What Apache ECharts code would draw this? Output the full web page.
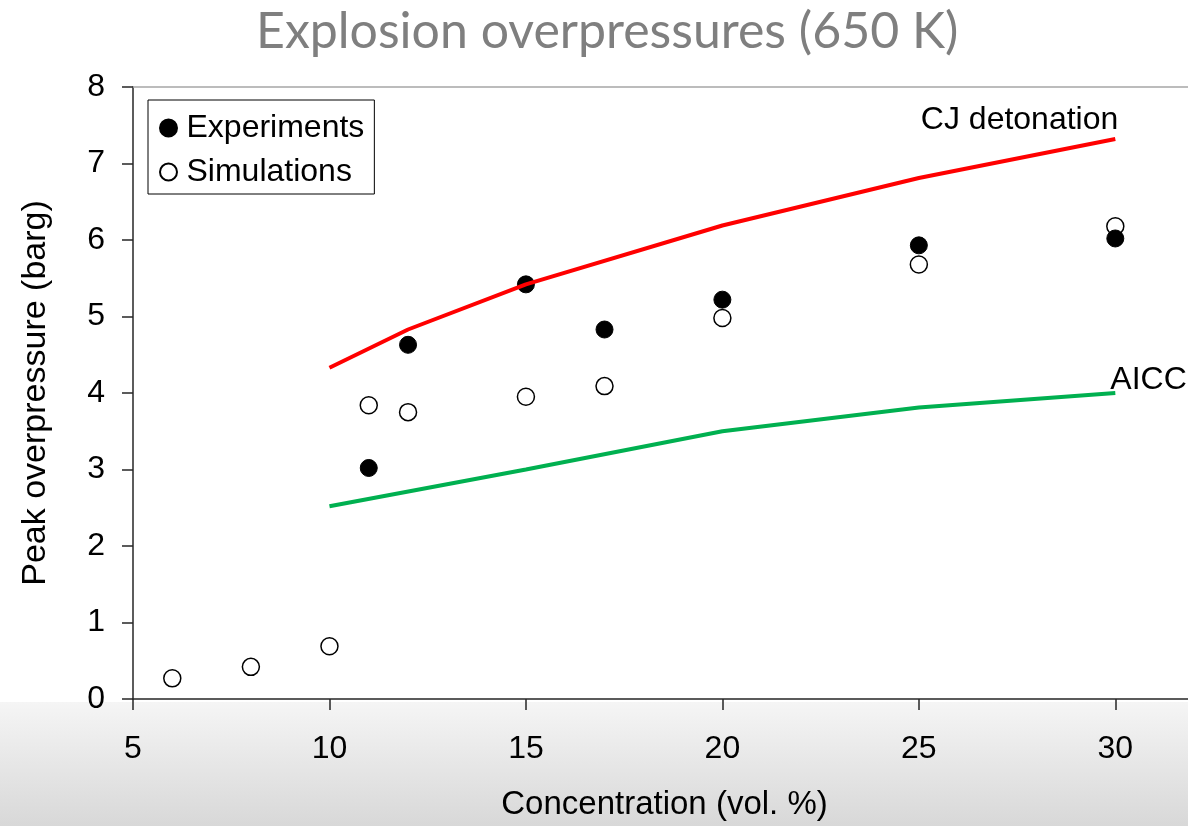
<!DOCTYPE html>
<html lang="en">
<head>
    <meta charset="UTF-8">
    <title>Explosion overpressures (650 K)</title>
    <script src="https://cdn.jsdelivr.net/npm/echarts@6/dist/echarts.min.js"></script>
    <style>
        html, body { margin: 0; padding: 0; background: #fff; }
    </style>
</head>
<body>
    <div id="main" style="width: 1188px;height:826px;"></div>
    <script type="text/javascript">
        // x tick labels
        const xTicks = [5, 10, 15, 20, 25, 30];
        // CJ detonation curve
        const cjX = [10, 12, 15, 20, 25, 30];
        const cjY = [4.33, 4.83, 5.42, 6.19, 6.81, 7.32];
        // AICC curve
        const aiccX = [10, 15, 20, 25, 30];
        const aiccY = [2.52, 3.0, 3.5, 3.81, 4.0];
        // experiments (filled dots)
        const expX = [11, 12, 15, 17, 20, 25, 30];
        const expY = [3.02, 4.63, 5.42, 4.83, 5.22, 5.93, 6.02];
        // simulations (open dots)
        const simX = [6, 8, 10, 11, 12, 15, 17, 20, 25, 30];
        const simY = [0.27, 0.42, 0.69, 3.84, 3.75, 3.95, 4.09, 4.98, 5.68, 6.18];

        const pairs = (xs, ys) => xs.map((x, i) => [x, ys[i]]);
        const font = 'Liberation Sans, Arial, sans-serif';

        const myChart = echarts.init(document.getElementById('main'));

        const option = {
            backgroundColor: '#fff',
            animation: false,
            title: {
                text: 'Explosion overpressures (650 K)',
                left: 251,
                top: 2,
                textStyle: {
                    fontFamily: 'Lato, sans-serif',
                    fontWeight: 'normal',
                    fontSize: 50,
                    color: '#7f7f7f'
                }
            },
            graphic: [
                {
                    // slide background band under the plot
                    type: 'rect',
                    z: -10,
                    silent: true,
                    shape: { x: 0, y: 702, width: 1188, height: 124 },
                    style: {
                        fill: new echarts.graphic.LinearGradient(0, 0, 0, 1, [
                            { offset: 0, color: '#f5f5f5' },
                            { offset: 1, color: '#d8d8d8' }
                        ])
                    }
                }
            ],
            legend: {
                left: 148,
                top: 100,
                orient: 'vertical',
                data: ['Experiments', 'Simulations'],
                borderColor: '#000',
                borderWidth: 1,
                borderRadius: 0,
                padding: [12, 10, 6, 11],
                itemWidth: 26,
                itemHeight: 17,
                itemGap: 12,
                textStyle: {
                    fontFamily: font,
                    fontSize: 32,
                    color: '#000'
                }
            },
            grid: {
                left: 133,
                right: 0,
                top: 87,
                bottom: 125
            },
            xAxis: [
                {
                    type: 'value',
                    min: 5,
                    max: 31.85,
                    interval: 5,
                    name: 'Concentration (vol. %)',
                    nameLocation: 'middle',
                    nameGap: 89,
                    nameTextStyle: { fontFamily: font, fontSize: 33, color: '#000', padding: [0, 0, 0, 8] },
                    axisLine: { lineStyle: { color: '#262626', width: 1.5 } },
                    axisTick: {
                        show: true,
                        length: 11,
                        customValues: xTicks,
                        lineStyle: { color: '#262626', width: 1.5 }
                    },
                    axisLabel: {
                        customValues: xTicks,
                        margin: 34,
                        fontFamily: font,
                        fontSize: 32,
                        color: '#000'
                    },
                    splitLine: { show: false }
                },
                {
                    // gray rule along the top of the plot
                    type: 'value',
                    position: 'top',
                    min: 5,
                    max: 31.85,
                    axisLine: { show: true, lineStyle: { color: '#a6a6a6', width: 1.5 } },
                    axisTick: { show: false },
                    axisLabel: { show: false },
                    splitLine: { show: false }
                }
            ],
            yAxis: {
                type: 'value',
                min: 0,
                max: 8,
                interval: 1,
                name: 'Peak overpressure (barg)',
                nameLocation: 'middle',
                nameGap: 80,
                nameTextStyle: { fontFamily: font, fontSize: 34, color: '#000' },
                axisLine: { show: true, lineStyle: { color: '#262626', width: 1.5 } },
                axisTick: { show: true, length: 11, lineStyle: { color: '#262626', width: 1.5 } },
                axisLabel: {
                    margin: 28,
                    fontFamily: font,
                    fontSize: 32,
                    color: '#000'
                },
                splitLine: { show: false }
            },
            series: [
                {
                    name: 'Simulations',
                    type: 'scatter',
                    symbol: 'circle',
                    symbolSize: 17,
                    z: 3,
                    itemStyle: { color: '#fff', borderColor: '#000', borderWidth: 1.5, opacity: 1 },
                    data: pairs(simX, simY)
                },
                {
                    name: 'Experiments',
                    type: 'scatter',
                    symbol: 'circle',
                    symbolSize: 17,
                    z: 4,
                    itemStyle: { color: '#000', borderColor: '#000', borderWidth: 1, opacity: 1 },
                    data: pairs(expX, expY)
                },
                {
                    name: 'CJ detonation',
                    type: 'line',
                    showSymbol: false,
                    z: 5,
                    lineStyle: { color: '#ff0000', width: 4 },
                    itemStyle: { color: '#ff0000' },
                    data: pairs(cjX, cjY),
                    markPoint: {
                        symbol: 'circle',
                        symbolSize: 1,
                        itemStyle: { color: 'rgba(0,0,0,0)' },
                        label: {
                            show: true,
                            position: 'top',
                            distance: 5,
                            align: 'right',
                            offset: [3, 3],
                            formatter: 'CJ detonation',
                            fontFamily: font,
                            fontSize: 32,
                            color: '#000'
                        },
                        data: [{ coord: [cjX[cjX.length - 1], cjY[cjY.length - 1]] }]
                    }
                },
                {
                    name: 'AICC',
                    type: 'line',
                    showSymbol: false,
                    z: 5,
                    lineStyle: { color: '#00b050', width: 4 },
                    itemStyle: { color: '#00b050' },
                    data: pairs(aiccX, aiccY),
                    markPoint: {
                        symbol: 'circle',
                        symbolSize: 1,
                        itemStyle: { color: 'rgba(0,0,0,0)' },
                        label: {
                            show: true,
                            position: 'top',
                            distance: 5,
                            align: 'left',
                            offset: [-5, 9],
                            formatter: 'AICC',
                            fontFamily: font,
                            fontSize: 32,
                            color: '#000'
                        },
                        data: [{ coord: [aiccX[aiccX.length - 1], aiccY[aiccY.length - 1]] }]
                    }
                }
            ]
        };

        myChart.setOption(option);
    </script>
</body>
</html>
